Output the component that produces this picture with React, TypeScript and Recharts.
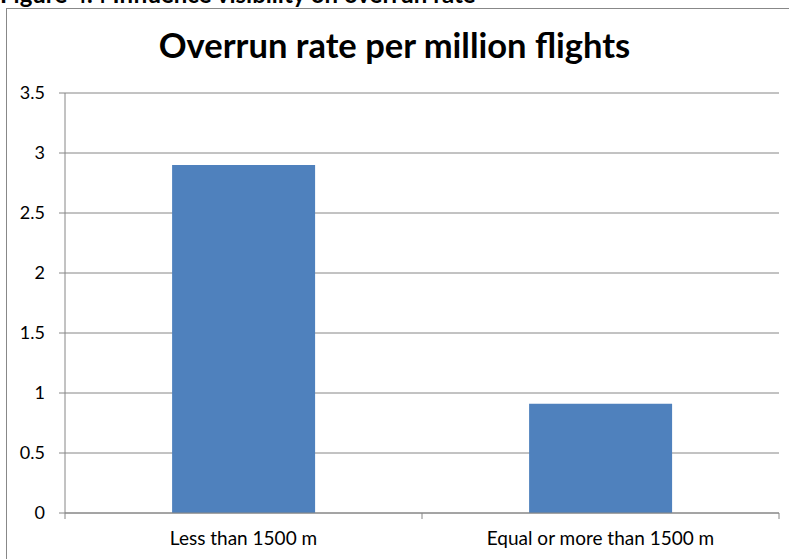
import { BarChart, Bar, XAxis, YAxis, CartesianGrid } from 'recharts';

const CATEGORIES = ['Less than 1500 m', 'Equal or more than 1500 m'];
const OVERRUN_RATE = [2.9, 0.91];
const Y_TICKS = [0, 0.5, 1, 1.5, 2, 2.5, 3, 3.5];

const data = CATEGORIES.map((name, i) => ({ name, rate: OVERRUN_RATE[i] }));

const FONT = 'Lato, "Open Sans", sans-serif';
const GRID = '#868686';

// Excel puts the category ticks on the band edges, not in the middle
const XTick = (props: any) => {
  const { x, y, payload, width, visibleTicksCount, index } = props;
  const half = width / visibleTicksCount / 2;
  return (
    <g>
      <line x1={x - half} x2={x - half} y1={y} y2={y + 6} stroke={GRID} />
      {index === visibleTicksCount - 1 && (
        <line x1={x + half} x2={x + half} y1={y} y2={y + 6} stroke={GRID} />
      )}
      <text x={x} y={y + 32} textAnchor="middle" fill="#000" fontSize={19} fontFamily={FONT}>
        {payload.value}
      </text>
    </g>
  );
};

export default function App() {
  return (
    <div style={{ position: 'absolute', left: 0, top: 0, width: 789, height: 559, overflow: 'hidden', background: '#fff' }}>
      <div style={{ position: 'absolute', left: 0, top: -18, fontFamily: FONT, fontWeight: 700, fontSize: 24, lineHeight: '24px', whiteSpace: 'nowrap' }}>
        Figure 4.4 Influence visibility on overrun rate
      </div>
      <div style={{ position: 'absolute', left: 6, top: 8, width: 800, height: 600, border: '1px solid #888', boxSizing: 'border-box' }} />
      <div style={{ position: 'absolute', left: 0, top: 23, width: 789, textAlign: 'center', fontFamily: FONT, fontWeight: 700, fontSize: 34.5, lineHeight: '44px', color: '#000' }}>
        Overrun rate per million flights
      </div>
      <div style={{ position: 'absolute', left: 0, top: 0 }}>
        <BarChart width={789} height={559} data={data} margin={{ top: 93, right: 10, bottom: 6, left: 5 }} barCategoryGap="30%">
          <CartesianGrid vertical={false} stroke={GRID} strokeDasharray="" />
          <XAxis
            dataKey="name"
            height={40}
            axisLine={{ stroke: GRID }}
            tickLine={false}
            tickSize={0}
            tickMargin={0}
            tick={<XTick />}
            interval={0}
          />
          <YAxis
            width={60}
            domain={[0, 3.5]}
            ticks={Y_TICKS}
            axisLine={{ stroke: GRID }}
            tickLine={{ stroke: GRID }}
            tickSize={6}
            tickMargin={14}
            tick={{ fill: '#000', fontSize: 18, fontFamily: FONT }}
          />
          <Bar dataKey="rate" fill="#4F81BD" isAnimationActive={false} />
        </BarChart>
      </div>
    </div>
  );
}
